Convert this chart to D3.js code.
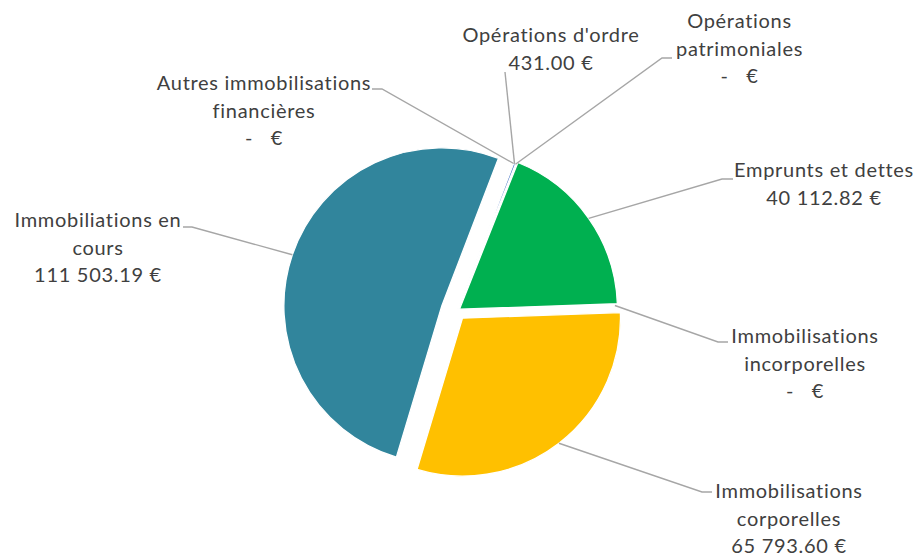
<!DOCTYPE html>
<html><head><meta charset="utf-8">
<script src="https://cdn.jsdelivr.net/npm/d3@7"></script>
<style>body{margin:0;background:#fff} svg{display:block}</style>
</head><body><svg id="chart" width="914" height="555"></svg>
<script>
// ---- data ----
const categories = ["Opérations d'ordre", "Opérations patrimoniales", "Emprunts et dettes",
  "Immobilisations incorporelles", "Immobilisations corporelles", "Immobiliations en cours",
  "Autres immobilisations financières"];
const values = [431.00, 0, 40112.82, 0, 65793.60, 111503.19, 0];
const labelLines = [["Opérations d'ordre"], ["Opérations", "patrimoniales"], ["Emprunts et dettes"],
  ["Immobilisations", "incorporelles"], ["Immobilisations", "corporelles"], ["Immobiliations en", "cours"],
  ["Autres immobilisations", "financières"]];
const colors = ["#4472C4", "#ED7D31", "#00B050", "#A5A5A5", "#FFC000", "#31859C", "#5B9BD5"];

// ---- layout ----
const cx = 457, cy = 311, R = 158;
const firstSliceAngle = 21; // degrees
const explode = [0, 0, 3, 0, 9, 16, 0];
// label text centre x, first baseline y, leader start points
const labelLayout = [
  {x: 551, y: 42, leader: [[505, 72]]},
  {x: 739.5, y: 28, leader: [[672, 58], [662, 58]]},
  {x: 824, y: 177, leader: [[733, 179], [722, 179]]},
  {x: 805, y: 343, leader: [[728, 342], [718, 342]]},
  {x: 789, y: 498, leader: [[712, 492], [702, 492]]},
  {x: 98, y: 227, leader: [[183, 227], [192, 227]]},
  {x: 264, y: 90, leader: [[372, 89], [382, 89]]}
];
const lineH = 27.7;

const loc = d3.formatLocale({decimal: ".", thousands: " ", grouping: [3], currency: ["", " €"]});
const fmt = loc.format(",.2f");
const fmtVal = v => v === 0 ? "-   €" : fmt(v) + " €";

const svg = d3.select("#chart");
const a0 = firstSliceAngle * Math.PI / 180;
const pie = d3.pie().sort(null).value(d => d).startAngle(a0).endAngle(a0 + 2 * Math.PI);
const arcs = pie(values);
const arc = d3.arc().innerRadius(0).outerRadius(R);

const g = svg.append("g").attr("transform", `translate(${cx},${cy})`);

function offset(d, i) {
  const m = (d.startAngle + d.endAngle) / 2;
  return [explode[i] * Math.sin(m), -explode[i] * Math.cos(m)];
}

g.selectAll("path.slice").data(arcs).join("path")
  .attr("class", "slice")
  .attr("d", d => d.value > 0 ? arc(d) : null)
  .attr("transform", (d, i) => { const o = offset(d, i); return `translate(${o[0]},${o[1]})`; })
  .attr("fill", (d, i) => colors[i])
  .attr("stroke", "#fff").attr("stroke-width", 1.3);

// leaders
arcs.forEach((d, i) => {
  const m = (d.startAngle + d.endAngle) / 2;
  const o = offset(d, i);
  const ax = cx + o[0] + R * Math.sin(m), ay = cy + o[1] - R * Math.cos(m);
  const pts = labelLayout[i].leader.concat([[ax, ay]]);
  svg.append("path")
    .attr("d", d3.line()(pts))
    .attr("fill", "none").attr("stroke", "#A6A6A6").attr("stroke-width", 1.4);
});

// labels
arcs.forEach((d, i) => {
  const L = labelLayout[i];
  const lines = labelLines[i].concat([fmtVal(values[i])]);
  const t = svg.append("text")
    .attr("text-anchor", "middle")
    .attr("font-family", "Lato, 'Open Sans', sans-serif")
    .attr("font-size", 20)
    .attr("letter-spacing", 0.7)
    .attr("fill", "#404040")
    .style("white-space", "pre");
  lines.forEach((s, k) => {
    t.append("tspan").attr("x", L.x).attr("y", L.y + k * lineH).text(s);
  });
});
</script>
</body></html>
